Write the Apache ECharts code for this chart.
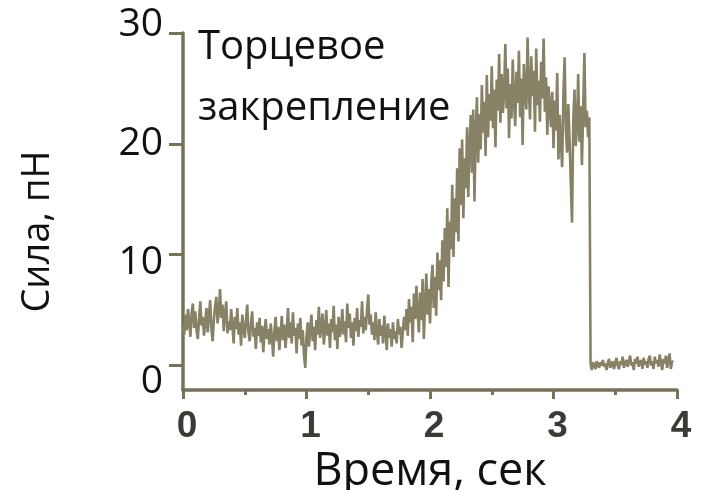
<!DOCTYPE html>
<html>
<head>
<meta charset="utf-8">
<script src="https://cdn.jsdelivr.net/npm/echarts@6/dist/echarts.min.js"></script>
<style>
  html, body { margin: 0; padding: 0; background: #ffffff; }
  #chart { width: 706px; height: 490px; }
</style>
</head>
<body>
<div id="chart"></div>
<script>
// Force trace of an end-tethered filament, sampled every 10 ms.
const sampleStep = 0.01; // seconds between samples
const forcePN = [
  3.5, 2.8, 4.6, 3.2, 5.1, 3.9, 2.6, 4.8, 5.6, 3.4,
  4.9, 3.1, 2.4, 4.2, 5.8, 3.6, 4.4, 2.7, 3.9, 5.2,
  3.0, 4.5, 5.9, 3.3, 2.2, 4.1, 5.4, 6.2, 3.8, 4.9,
  6.9, 4.3, 5.5, 3.1, 4.7, 5.8, 2.9, 4.0, 3.2, 5.1,
  3.6, 2.0, 4.4, 3.3, 5.2, 2.8, 3.9, 1.8, 4.6, 3.4,
  2.5, 4.1, 5.5, 3.0, 2.2, 3.7, 4.9, 2.6, 3.4, 1.5,
  3.9, 2.7, 4.3, 2.1, 3.6, 1.2, 3.0, 4.2, 2.4, 3.3,
  1.9, 3.8, 2.6, 0.8, 3.1, 4.4, 2.2, 3.5, 1.4, 2.9,
  4.5, 2.3, 3.7, 1.6, 3.0, 5.2, 2.5, 3.9, 2.0, 4.8,
  2.7, 3.4, 1.1, 3.8, 2.4, 4.3, 1.8, 3.2, 0.9, -0.2,
  2.6, 3.9, 1.7, 3.3, 4.6, 2.2, 3.5, 1.4, 4.1, 2.8,
  5.3, 2.5, 3.6, 4.7, 1.9, 3.2, 5.0, 2.7, 3.8, 1.6,
  4.2, 3.0, 5.4, 2.3, 3.7, 1.5, 4.4, 2.6, 3.3, 5.1,
  2.8, 4.0, 2.1, 5.6, 3.4, 4.7, 2.5, 3.9, 1.8, 4.3,
  3.1, 5.2, 2.6, 4.1, 3.5, 5.8, 2.9, 4.4, 3.2, 5.0,
  6.4, 3.7, 4.6, 2.8, 3.9, 2.3, 4.8, 3.1, 1.9, 4.2,
  2.7, 3.6, 2.0, 4.5, 3.0, 1.4, 3.8, 2.5, 3.3, 1.7,
  3.9, 2.4, 3.1, 2.0, 4.2, 2.8, 3.5, 1.6, 3.0, 4.4,
  3.2, 5.1, 2.7, 6.0, 3.9, 5.3, 2.1, 6.5, 4.2, 7.2,
  4.8, 3.0, 6.6, 4.1, 7.8, 2.4, 5.5, 8.3, 4.6, 6.9,
  3.8, 7.4, 9.1, 5.2, 8.0, 4.5, 10.2, 6.8, 9.5, 5.9,
  11.3, 7.6, 12.4, 8.9, 14.2, 7.1, 13.0, 10.5, 16.3, 9.8,
  15.1, 12.0, 17.8, 11.2, 19.6, 14.5, 20.4, 13.3, 18.7, 16.0,
  21.5, 15.2, 19.8, 22.6, 17.4, 23.1, 14.8, 20.9, 24.2, 18.3,
  22.7, 19.5, 25.3, 21.0, 23.8, 18.9, 26.2, 20.6, 24.5, 22.1,
  27.0, 21.4, 24.9, 19.7, 25.8, 23.0, 28.1, 21.9, 26.3, 22.8,
  24.6, 29.0, 23.2, 26.8, 20.5, 25.4, 22.3, 27.6, 24.0, 21.6,
  26.5, 23.7, 28.4, 22.4, 25.9, 19.9, 27.2, 24.8, 23.1, 29.6,
  25.0, 22.2, 27.9, 24.3, 26.6, 21.1, 28.6, 23.5, 25.7, 22.0,
  27.4, 24.1, 29.5, 22.9, 26.0, 20.8, 25.2, 23.3, 21.5, 24.7,
  19.6, 23.9, 21.2, 26.4, 18.6, 22.6, 20.1, 17.9, 24.4, 27.8,
  21.3, 19.2, 23.6, 20.4, 16.5, 12.9, 22.0, 24.9, 19.8, 21.7,
  26.3, 20.2, 23.4, 18.1, 22.8, 28.2, 21.5, 23.0, 20.6, 22.4,
  0.2, -0.4, 0.3, 0.0, -0.3, 0.4, 0.1, -0.2, 0.3, 0.0,
  0.5, -0.1, 0.2, -0.4, 0.3, 0.6, -0.2, 0.1, 0.4, -0.3,
  0.2, 0.7, 0.0, -0.3, 0.4, 0.1, 0.8, -0.2, 0.3, 0.5,
  -0.1, 0.4, 0.9, 0.0, 0.3, -0.4, 0.6, 0.2, 0.8, -0.1,
  0.3, 0.5, -0.3, 0.7, 0.1, 0.4, -0.2, 0.6, 0.9, 0.0,
  0.4, -0.3, 0.8, 0.2, 0.5, -0.1, 1.0, 0.3, -0.4, 0.6,
  0.2, 0.9, -0.2, 0.5, 1.1, -0.3, 0.4, 0.3
];
const yTickValues = [0, 10, 20, 30];
const titleLines = ['Торцевое', 'закрепление'];
const xAxisTitle = 'Время, сек';
const yAxisTitle = 'Сила, пН';

const axisColor = '#77715a';
const traceColor = '#878166';
const textFont = '"Open Sans", "Noto Sans", sans-serif';

const tracePoints = forcePN.map((v, i) => [Number((i * sampleStep).toFixed(2)), v]);

const chart = echarts.init(document.getElementById('chart'), null, { renderer: 'canvas' });

chart.setOption({
  animation: false,
  backgroundColor: '#ffffff',
  title: {
    text: titleLines.join('\n'),
    left: 193,
    top: 12,
    textStyle: {
      fontFamily: textFont,
      fontSize: 40,
      fontWeight: 'normal',
      color: '#111111',
      lineHeight: 61
    }
  },
  grid: [
    { left: 183, right: 29, top: 33, bottom: 100, outerBoundsMode: 'none' },
    // carries the force tick labels only
    { left: 183, right: 29, top: 25, bottom: 108, show: false, outerBoundsMode: 'none' }
  ],
  xAxis: [
    {
      gridIndex: 0,
      type: 'value',
      min: 0,
      max: 4,
      interval: 1,
      name: xAxisTitle,
      nameLocation: 'middle',
      nameGap: 44,
      nameTextStyle: { fontFamily: textFont, fontSize: 45, color: '#111111' },
      axisLine: { show: true, onZero: false, lineStyle: { color: axisColor, width: 3.5 } },
      axisTick: { show: true, length: 9, lineStyle: { color: axisColor, width: 3 } },
      minorTick: { show: true, splitNumber: 2, length: 5, lineStyle: { color: axisColor, width: 3 } },
      splitLine: { show: false },
      axisLabel: {
        margin: 18,
        fontFamily: '"Liberation Sans", Arial, sans-serif',
        fontWeight: 'bold',
        fontSize: 37,
        color: '#3c3a35',
        padding: [0, 0, 0, 8]
      }
    },
    { gridIndex: 1, type: 'value', min: 0, max: 1, show: false }
  ],
  yAxis: [
    {
      gridIndex: 0,
      type: 'value',
      min: -2.2,
      max: 30,
      name: yAxisTitle,
      nameLocation: 'middle',
      nameGap: 126,
      nameTextStyle: { fontFamily: textFont, fontSize: 38, color: '#111111', padding: [0, 40, 0, 0] },
      axisLine: { show: true, onZero: false, lineStyle: { color: axisColor, width: 3.5 } },
      axisTick: { show: true, length: 14, customValues: yTickValues, lineStyle: { color: axisColor, width: 3 } },
      axisLabel: { show: false },
      splitLine: { show: false }
    },
    {
      gridIndex: 1,
      type: 'value',
      min: 0,
      max: 30,
      interval: 10,
      axisLine: { show: false },
      axisTick: { show: false },
      splitLine: { show: false },
      axisLabel: {
        margin: 20,
        fontFamily: textFont,
        fontSize: 39,
        color: '#111111'
      }
    }
  ],
  series: [
    {
      type: 'line',
      xAxisIndex: 0,
      yAxisIndex: 0,
      data: tracePoints,
      showSymbol: false,
      clip: false,
      lineStyle: { color: traceColor, width: 2.6, join: 'bevel' }
    }
  ]
});
</script>
</body>
</html>
